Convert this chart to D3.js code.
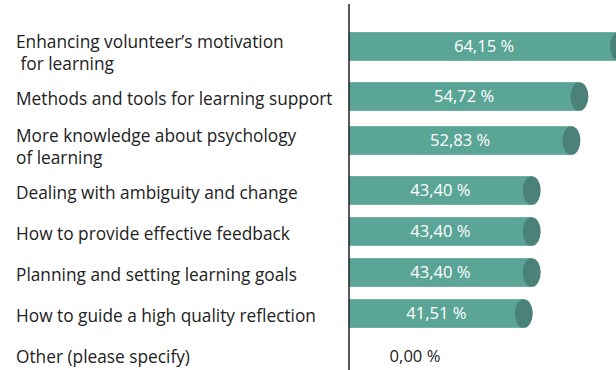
<!DOCTYPE html>
<html>
<head>
<meta charset="utf-8">
<script src="https://cdn.jsdelivr.net/npm/d3@7"></script>
<style>
  html, body { margin: 0; padding: 0; background: #fff; overflow: hidden; }
  svg { display: block; }
</style>
</head>
<body>
<svg id="chart" width="616" height="370"></svg>
<script>
// Answer options (each entry is a list of label lines) and share of respondents in %
const categories = [
  ["Enhancing volunteer\u2019s motivation", "\u00a0for learning"],
  ["Methods and tools for learning support"],
  ["More knowledge about psychology", "of learning"],
  ["Dealing with ambiguity and change"],
  ["How to provide effective feedback"],
  ["Planning and setting learning goals"],
  ["How to guide a high quality reflection"],
  ["Other (please specify)"]
];
const values = [64.15, 54.72, 52.83, 43.40, 43.40, 43.40, 41.51, 0.00];
const valueLabels = ["64,15 %", "54,72 %", "52,83 %", "43,40 %", "43,40 %", "43,40 %", "41,51 %", "0,00 %"];

const W = 616, H = 370;
const axisX = 349;
const plotTop = 23;
const rowOne = 41, rowExtra = 12;   // row height and extra room for a second label line
const barH = 28.7;
const barColor = "#5aa596", capColor = "#4a8279";
const font = "'Open Sans', sans-serif";

const svg = d3.select("#chart");

// Rows grow with the number of label lines
const rowHeights = categories.map(c => rowOne + (c.length - 1) * rowExtra);
const rowTops = d3.cumsum([0].concat(rowHeights)).map(v => v + plotTop);
const yCenter = i => rowTops[i] + rowHeights[i] / 2;

const x = d3.scaleLinear().domain([0, 100]).range([axisX, axisX + 421]);

const rows = svg.append("g").selectAll("g")
  .data(values.map((v, i) => ({ v, i, label: valueLabels[i], cat: categories[i] })))
  .join("g");

// Category labels
rows.append("text")
  .attr("font-family", font)
  .attr("font-size", 17.3)
  .attr("fill", "#222")
  .each(function(d) {
    const n = d.cat.length;
    const lh = 22;
    const y0 = yCenter(d.i) - (n - 1) * lh / 2 + (n > 1 ? 3.4 : 2);
    d3.select(this).selectAll("tspan").data(d.cat).join("tspan")
      .attr("x", 16)
      .attr("y", (t, k) => y0 + k * lh)
      .attr("dy", "0.35em")
      .text(t => t);
  });

// Bar bodies
const barY = d => yCenter(d.i) - barH / 2 - (d.cat.length > 1 ? 3 : 0);
rows.filter(d => d.v > 0).append("rect")
  .attr("x", x(0))
  .attr("y", barY)
  .attr("width", d => x(d.v) - x(0))
  .attr("height", barH)
  .attr("fill", barColor);

// Rounded cylinder caps at the end of each bar
rows.filter(d => d.v > 0).append("ellipse")
  .attr("cx", d => x(d.v))
  .attr("cy", d => barY(d) + barH / 2)
  .attr("rx", 9)
  .attr("ry", barH / 2)
  .attr("fill", capColor);

// Value labels: centred inside bars, beside the axis for empty bars
rows.append("text")
  .attr("x", d => d.v > 0 ? (x(0) + x(d.v)) / 2 : x(0) + 66)
  .attr("y", d => (d.v > 0 ? barY(d) + barH / 2 : yCenter(d.i) + 2))
  .attr("dy", "0.35em")
  .attr("text-anchor", "middle")
  .attr("font-family", font)
  .attr("font-size", 16.6)
  .attr("fill", d => d.v > 0 ? "#fff" : "#222")
  .text(d => d.label);

// Vertical baseline axis
svg.append("line")
  .attr("x1", axisX).attr("x2", axisX)
  .attr("y1", 4).attr("y2", H)
  .attr("stroke", "#222")
  .attr("stroke-width", 1.5);
</script>
</body>
</html>
